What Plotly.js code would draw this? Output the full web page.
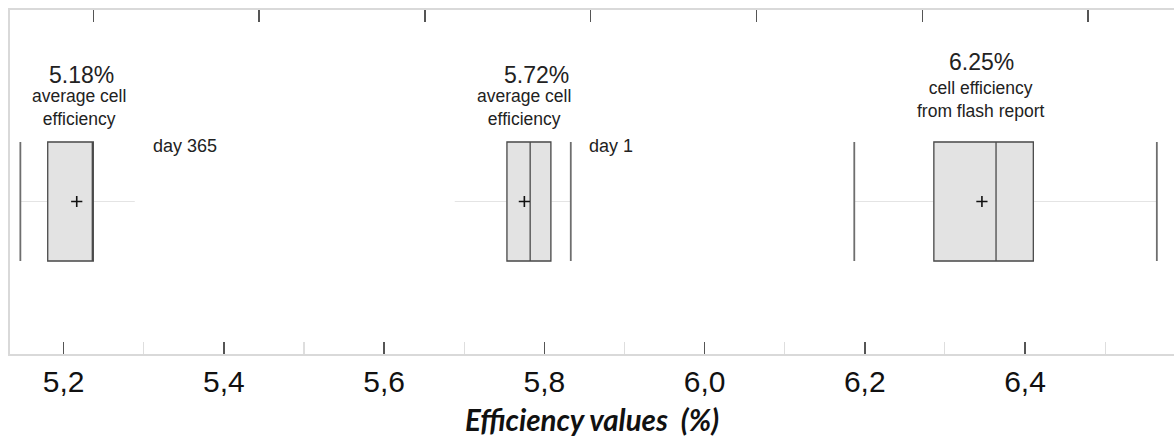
<!DOCTYPE html>
<html>
<head>
<meta charset="utf-8">
<script src="https://cdn.plot.ly/plotly-3.0.1.min.js"></script>
<style>
  html, body { margin: 0; padding: 0; background: #ffffff; }
  #chart { width: 1174px; height: 443px; }
</style>
</head>
<body>
<div id="chart"></div>
<script>
// Efficiency distributions (%), one box per measurement
const groups       = ['day 365', 'day 1', 'flash report'];
const q1           = [5.145, 5.699, 6.214];
const median       = [5.200, 5.727, 6.289];
const q3           = [5.200, 5.752, 6.334];
const mean         = [5.18, 5.72, 6.272];
const lowerWhisker = [5.112, 5.636, 6.118];
const upperWhisker = [5.250, 5.776, 6.483];
const lowerCap     = [5.112, null, 6.118];
const upperCap     = [null, 5.776, 6.483];

// Headline values and captions above each box
const headline     = ['5.18%', '5.72%', '6.25%'];
const caption      = ['average cell<br>efficiency', 'average cell<br>efficiency', 'cell efficiency<br>from flash report'];
const sideLabel    = ['day 365', 'day 1', null];

// Bottom axis ticks
const tickValues   = [5.2, 5.4, 5.6, 5.8, 6.0, 6.2, 6.4];
const tickLabels   = ['5,2', '5,4', '5,6', '5,8', '6,0', '6,2', '6,4'];

const BOX_W = 1;          // box thickness in y units
const ROW = 0;            // all boxes sit on one row

// empty trace so the bottom axis gets its own subplot
const traces = [{
  type: 'scatter', mode: 'markers', xaxis: 'x', yaxis: 'y',
  x: [], y: [], showlegend: false, hoverinfo: 'skip'
}];

groups.forEach((g, i) => {
  // faint whisker line spanning the full range
  traces.push({
    type: 'box', orientation: 'h', name: g + ' range', showlegend: false,
    xaxis: 'x2', yaxis: 'y',
    y: [ROW], q1: [q1[i]], median: [median[i]], q3: [q3[i]],
    lowerfence: [lowerWhisker[i]], upperfence: [upperWhisker[i]],
    width: BOX_W, whiskerwidth: 0,
    line: { color: '#e4e4e4', width: 1.2 },
    fillcolor: 'rgba(0,0,0,0)', hoverinfo: 'skip'
  });
  // interquartile box with median
  traces.push({
    type: 'box', orientation: 'h', name: g, showlegend: false,
    xaxis: 'x2', yaxis: 'y',
    y: [ROW], q1: [q1[i]], median: [median[i]], q3: [q3[i]],
    lowerfence: [q1[i]], upperfence: [q3[i]],
    width: BOX_W, whiskerwidth: 0,
    line: { color: '#4a4a4a', width: 1.3 },
    fillcolor: '#e3e3e3'
  });
});

// end caps of the whiskers
const capX = [], capY = [];
groups.forEach((g, i) => {
  [lowerCap[i], upperCap[i]].forEach(c => {
    if (c !== null) { capX.push(c, c, null); capY.push(ROW - BOX_W / 2, ROW + BOX_W / 2, null); }
  });
});
traces.push({
  type: 'scatter', mode: 'lines', xaxis: 'x2', yaxis: 'y',
  x: capX, y: capY, line: { color: '#6e6e6e', width: 1.8 },
  showlegend: false, hoverinfo: 'skip'
});

// mean markers
traces.push({
  type: 'scatter', mode: 'markers', xaxis: 'x2', yaxis: 'y',
  x: mean, y: mean.map(() => ROW),
  marker: { symbol: 'cross-thin', size: 8, line: { color: '#111', width: 1.6 } },
  showlegend: false
});

const txt = '#222222';
const sans = 'Liberation Sans, Arial, sans-serif';
const annotations = [];
const headY = [0.811, 0.811, 0.849];
const capYPos = [0.717, 0.717, 0.740];
const headShift = [5, 12, 0];
const capShift = [2, 0, -1];
groups.forEach((g, i) => {
  annotations.push({
    xref: 'x2', yref: 'paper', x: mean[i], y: headY[i], xshift: headShift[i],
    text: headline[i], showarrow: false, xanchor: 'center', yanchor: 'middle',
    font: { family: sans, size: 23, color: txt }
  });
  annotations.push({
    xref: 'x2', yref: 'paper', x: mean[i], y: capYPos[i], xshift: capShift[i],
    text: caption[i], showarrow: false, xanchor: 'center', yanchor: 'middle',
    font: { family: sans, size: 17.5, color: txt }
  });
  if (sideLabel[i]) {
    annotations.push({
      xref: 'x2', yref: 'paper', x: upperWhisker[i], y: 0.605, xshift: 16,
      text: sideLabel[i], showarrow: false, xanchor: 'left', yanchor: 'middle',
      font: { family: sans, size: 18, color: txt }
    });
  }
});

const layout = {
  width: 1174, height: 443,
  margin: { l: 10, r: 0, t: 10, b: 89 },
  paper_bgcolor: '#ffffff', plot_bgcolor: '#ffffff',
  boxmode: 'overlay',
  showlegend: false,
  xaxis: {
    range: [5.133, 6.586],
    tickmode: 'array', tickvals: tickValues, ticktext: tickLabels,
    ticks: 'inside', ticklen: 12, tickwidth: 1.5, tickcolor: '#555555',
    minor: { tick0: 5.1, dtick: 0.1, ticks: 'inside', ticklen: 12, tickwidth: 1.2, tickcolor: '#dedede', showgrid: false },
    showline: true, linecolor: '#d9d9d9', linewidth: 2,
    showgrid: false, zeroline: false,
    tickfont: { family: sans, size: 30, color: '#111111' },
    title: {
      text: '<b><i>Efficiency values&nbsp;&nbsp;(%)</i></b>',
      font: { family: 'Lato, Open Sans, sans-serif', size: 29.5, color: '#111111' },
      standoff: 13
    }
  },
  xaxis2: {
    overlaying: 'x', side: 'top', anchor: 'y',
    range: [5.0995, 6.5037],
    tick0: 5.2, dtick: 0.2,
    ticks: 'inside', ticklen: 12, tickwidth: 1.5, tickcolor: '#555555',
    showticklabels: false,
    showline: true, linecolor: '#d9d9d9', linewidth: 2,
    showgrid: false, zeroline: false
  },
  yaxis: {
    range: [-1.2815, 1.609],
    showline: true, linecolor: '#d9d9d9', linewidth: 2,
    showticklabels: false, ticks: '', showgrid: false, zeroline: false
  },
  annotations: annotations
};

Plotly.newPlot('chart', traces, layout, { staticPlot: true, displayModeBar: false });
</script>
</body>
</html>
